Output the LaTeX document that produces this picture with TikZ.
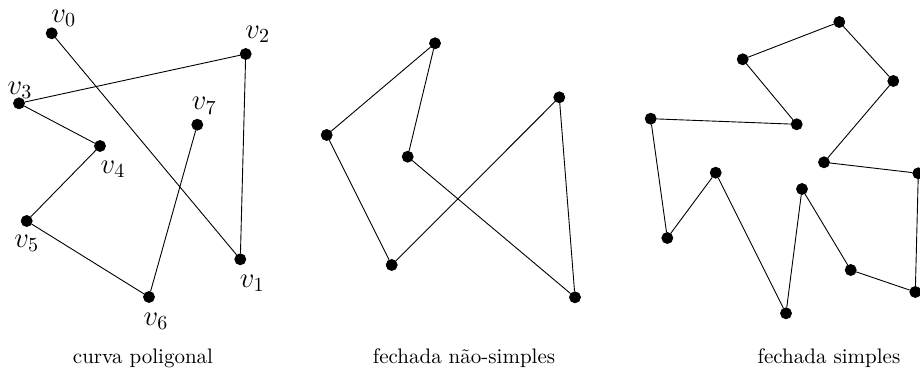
\documentclass[tikz,border=0pt]{standalone}
\usetikzlibrary{positioning}
\tikzset{
  poly dot/.style={circle, fill=black, draw=black, minimum size=5.5pt, inner sep=0pt},
  poly edge/.style={draw=black, line width=0.45pt},
  poly label/.style={font=\fontsize{14}{16}\selectfont, inner sep=0pt},
  poly caption/.style={font=\fontsize{10.5}{12}\selectfont},
}

\begin{document}
\begin{tikzpicture}[x=0.5pt, y=-0.5pt]
  \useasboundingbox (0,0) rectangle (920,373);

  % Open polygonal curve v0 ... v7
  \node[poly dot] (v0) at (51.7,33.3) {};
  \node[poly dot] (v1) at (240.3,259.3) {};
  \node[poly dot] (v2) at (245.7,54) {};
  \node[poly dot] (v3) at (19,103.3) {};
  \node[poly dot] (v4) at (100,146) {};
  \node[poly dot] (v5) at (26.7,221) {};
  \node[poly dot] (v6) at (149,297) {};
  \node[poly dot] (v7) at (197.3,124.7) {};
  \draw[poly edge] (v0) -- (v1) -- (v2) -- (v3) -- (v4) -- (v5) -- (v6) -- (v7);

  \node[poly label] (lv0) at ([shift={(12,-15)}]v0) {$v_0$};
  \node[poly label] (lv1) at ([shift={(12,24)}]v1) {$v_1$};
  \node[poly label] (lv2) at ([shift={(12,-20)}]v2) {$v_2$};
  \node[poly label] (lv3) at ([shift={(1,-13)}]v3) {$v_3$};
  \node[poly label] (lv4) at ([shift={(13,23)}]v4) {$v_4$};
  \node[poly label] (lv5) at ([shift={(0,22)}]v5) {$v_5$};
  \node[poly label] (lv6) at ([shift={(7,24)}]v6) {$v_6$};
  \node[poly label] (lv7) at ([shift={(7,-19)}]v7) {$v_7$};

  % Closed, self-crossing
  \node[poly dot] (a) at (435,43.3) {};
  \node[poly dot] (b) at (326.7,135) {};
  \node[poly dot] (c) at (407.7,156.7) {};
  \node[poly dot] (d) at (559.3,97.3) {};
  \node[poly dot] (e) at (391.7,265) {};
  \node[poly dot] (f) at (575,297.3) {};
  \draw[poly edge] (a) -- (b) -- (e) -- (d) -- (f) -- (c) -- (a);

  % Closed, simple
  \node[poly dot] (p1) at (839.3,22) {};
  \node[poly dot] (p2) at (742.7,59.3) {};
  \node[poly dot] (p3) at (893.3,81) {};
  \node[poly dot] (p4) at (650.7,118.7) {};
  \node[poly dot] (p5) at (796.7,124.3) {};
  \node[poly dot] (p6) at (824,162.3) {};
  \node[poly dot] (p7) at (918.3,173.3) {};
  \node[poly dot] (p8) at (715.7,172.7) {};
  \node[poly dot] (p9) at (802,189) {};
  \node[poly dot] (p10) at (667.3,238) {};
  \node[poly dot] (p11) at (850.7,270) {};
  \node[poly dot] (p12) at (915.3,292) {};
  \node[poly dot] (p13) at (786,313.3) {};
  \draw[poly edge] (p5) -- (p2) -- (p1) -- (p3) -- (p6) -- (p7) -- (p12)
    -- (p11) -- (p9) -- (p13) -- (p8) -- (p10) -- (p4) -- (p5);

  % Captions
  \node[poly caption] (cap1) at (143,358) {curva poligonal};
  \node[poly caption] (cap2) at (464,358) {fechada não-simples};
  \node[poly caption] (cap3) at (829,358) {fechada simples};
\end{tikzpicture}
\end{document}
